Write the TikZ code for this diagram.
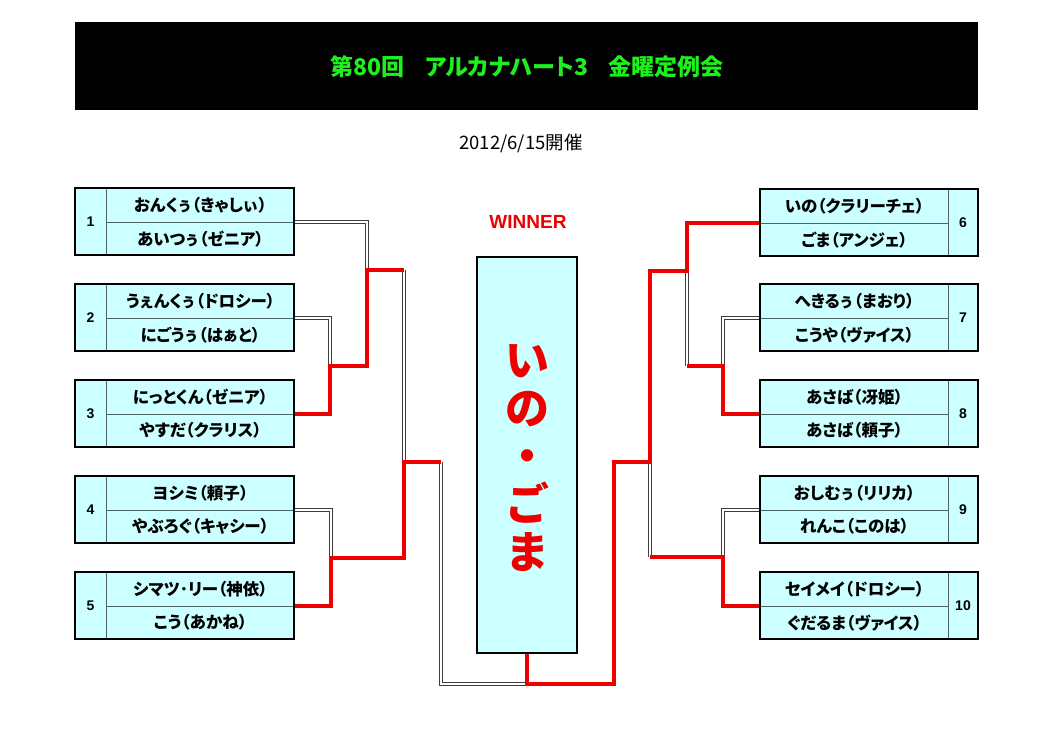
\documentclass[tikz,border=0pt]{standalone}
\usepackage{fontspec}
\setmainfont{Noto Sans CJK JP}[RawFeature=+palt]
\newfontfamily\plainjp{Noto Sans CJK JP}
\newfontfamily\latinbold{Liberation Sans}[BoldFont={Liberation Sans Bold}]
\definecolor{cellfill}{HTML}{CCFFFF}
\definecolor{cellline}{HTML}{506464}
\definecolor{titlegreen}{HTML}{1EF01E}
\definecolor{winred}{HTML}{EE0000}
\definecolor{losegray}{HTML}{3C3C3C}
\tikzset{
  namecell/.style={draw=cellline, fill=cellfill, line width=0.9pt, minimum width=188pt,
    minimum height=33.5pt, inner sep=0pt, anchor=north west,
    font=\bfseries\fontsize{16.5}{16.5}\selectfont},
  numtext/.style={font=\latinbold\bfseries\fontsize{14}{14}\selectfont, inner sep=0pt},
  boxrule/.style={draw=black, line width=2pt},
  loseout/.style={draw=losegray, line width=3.8pt, line join=miter},
  losein/.style={draw=white, line width=1.5pt, line join=miter},
  win/.style={draw=winred, line width=3.3pt, line join=miter},
}
\newcommand\teamL[5]{%
  \fill[cellfill] (75,#2) rectangle (294,{#2+67});
  \node[namecell] (#1a) at (106,#2) {#4};
  \node[namecell] (#1b) at (106,{#2+33.5}) {#5};
  \node[numtext] (#1n) at (90.5,{#2+33.5}) {#3};
  \draw[boxrule] (75,#2) rectangle (294,{#2+67});
  \coordinate (#1) at (295,{#2+34});
}
\newcommand\teamR[5]{%
  \fill[cellfill] (760,#2) rectangle (978,{#2+67});
  \node[namecell] (#1a) at (760,#2) {#4};
  \node[namecell] (#1b) at (760,{#2+33.5}) {#5};
  \node[numtext] (#1n) at (963,{#2+33.5}) {#3};
  \draw[cellline, line width=0.9pt] (948,#2) -- (948,{#2+67});
  \draw[boxrule] (760,#2) rectangle (978,{#2+67});
  \coordinate (#1) at (759,{#2+34});
}
\begin{document}
\begin{tikzpicture}[x=1pt,y=-1pt]
\useasboundingbox[fill=white] (0,0) rectangle (1053,744);
% title
\fill[black] (75,22) rectangle (978,110);
\node[font=\bfseries\fontsize{23}{23}\selectfont, text=titlegreen] (title) at (527,67)
  {第80回\hspace{0.9em}アルカナハート3\hspace{0.9em}金曜定例会};
\node[font=\plainjp\fontsize{18.5}{18.5}\selectfont] (date) at (521,143) {2012/6/15開催};
% winner
\node[font=\latinbold\bfseries\fontsize{19}{19}\selectfont, text=winred] (wlabel) at (528,222) {WINNER};
\node[draw=black, line width=1.8pt, fill=cellfill, minimum width=100pt, minimum height=396pt, inner sep=0pt] (W) at (527,455) {};
\node[text=winred, font=\bfseries\fontsize{44}{48}\selectfont, align=center] (wname) at (527,458) {い\\の\\・\\ご\\ま};
% teams
\teamL{L1}{188}{1}{おんくぅ（きゃしぃ）}{あいつぅ（ゼニア）}
\teamL{L2}{284}{2}{うぇんくぅ（ドロシー）}{にごうぅ（はぁと）}
\teamL{L3}{380}{3}{にっとくん（ゼニア）}{やすだ（クラリス）}
\teamL{L4}{476}{4}{ヨシミ（頼子）}{やぶろぐ（キャシー）}
\teamL{L5}{572}{5}{シマツ･リー（神依）}{こう（あかね）}
\teamR{R6}{189}{6}{いの（クラリーチェ）}{ごま（アンジェ）}
\teamR{R7}{284}{7}{へきるぅ（まおり）}{こうや（ヴァイス）}
\teamR{R8}{380}{8}{あさば（冴姫）}{あさば（頼子）}
\teamR{R9}{476}{9}{おしむぅ（リリカ）}{れんこ（このは）}
\teamR{R10}{572}{10}{セイメイ（ドロシー）}{ぐだるま（ヴァイス）}
% junction points
\coordinate (j1) at (367,270);
\coordinate (q1) at (404,270);
\coordinate (k23) at (330,366);
\coordinate (k45) at (331,558);
\coordinate (s1) at (404,462);
\coordinate (f1) at (441,462);
\coordinate (wb) at (527,684);
\coordinate (f2) at (614,462);
\coordinate (s2) at (650,462);
\coordinate (p2) at (650,271);
\coordinate (q2) at (687,271);
\coordinate (m78) at (687,366);
\coordinate (k78) at (723,366);
\coordinate (m910) at (650,557);
\coordinate (k910) at (723,557);
% losing lines: dark outer stroke, then white core
\draw[loseout] (L1) -| (j1);
\draw[loseout] (L2) -| (k23);
\draw[loseout] (L4) -| (k45);
\draw[loseout] (q1) -- (s1);
\draw[loseout] (f1) |- (wb);
\draw[loseout] (R7) -| (k78);
\draw[loseout] (q2) -- (m78);
\draw[loseout] (R9) -| (k910);
\draw[loseout] (s2) -- (m910);
\draw[losein] (L1) -| (j1);
\draw[losein] (L2) -| (k23);
\draw[losein] (L4) -| (k45);
\draw[losein] (q1) -- (s1);
\draw[losein] (f1) |- (wb);
\draw[losein] (R7) -| (k78);
\draw[losein] (q2) -- (m78);
\draw[losein] (R9) -| (k910);
\draw[losein] (s2) -- (m910);
% winning lines
\draw[win] (L3) -| (k23) -| (j1) -- (q1);
\draw[win] (L5) -| (k45) -| (s1) -- (f1);
\draw[win] (R8) -| (k78) -- (m78);
\draw[win] (R10) -| (k910) -- (m910);
\draw[win] (W.south) -- (wb) -| (f2) -- (s2) -- (p2) -- (q2) |- (R6);
\end{tikzpicture}
\end{document}
